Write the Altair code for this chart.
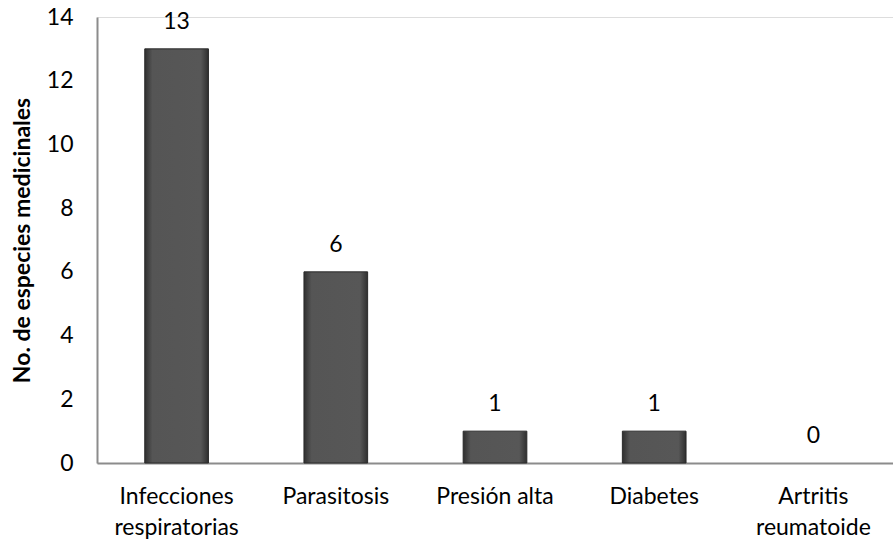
import altair as alt
import pandas as pd

# Medicinal species count per ailment
categories = ["Infecciones\nrespiratorias", "Parasitosis", "Presión alta", "Diabetes", "Artritis\nreumatoide"]
values = [13, 6, 1, 1, 0]

df = pd.DataFrame({"cat": categories, "n": values})

FONT = "Lato"
SIZE = 23

bar_fill = alt.Gradient(
    gradient="linear",
    x1=0, x2=1, y1=0, y2=0,
    stops=[
        alt.GradientStop(color="#2f2f2f", offset=0),
        alt.GradientStop(color="#555555", offset=0.12),
        alt.GradientStop(color="#575757", offset=0.88),
        alt.GradientStop(color="#2f2f2f", offset=1),
    ],
)

x = alt.X(
    "cat:N",
    sort=categories,
    scale=alt.Scale(paddingInner=0.6, paddingOuter=0.3),
    axis=alt.Axis(
        title=None,
        labelAngle=0,
        labelExpr="split(datum.label, '\\n')",
        labelFontSize=SIZE,
        labelFont=FONT,
        labelColor="#000000",
        labelPadding=22,
        labelLineHeight=31,
        ticks=False,
        domainColor="#8c8c8c",
        domainWidth=2,
    ),
)

y = alt.Y(
    "n:Q",
    scale=alt.Scale(domain=[0, 14], nice=False),
    axis=alt.Axis(
        title="No. de especies medicinales",
        titleFont=FONT,
        titleFontSize=23,
        titleFontWeight="bold",
        titleColor="#000000",
        titlePadding=12,
        values=[0, 2, 4, 6, 8, 10, 12, 14],
        labelFontSize=SIZE,
        labelFont=FONT,
        labelColor="#000000",
        labelPadding=24,
        ticks=False,
        grid=False,
        domainColor="#8c8c8c",
        domainWidth=2,
    ),
)

bars = (
    alt.Chart(df)
    .transform_filter("datum.n > 0")
    .mark_bar(fill=bar_fill, stroke="#2a2a2a", strokeWidth=1)
    .encode(x=x, y=y)
)

labels = alt.Chart(df).mark_text(
    baseline="bottom", dy=-15, fontSize=SIZE, font=FONT, color="#000000"
).encode(x=alt.X("cat:N", sort=categories), y=alt.Y("n:Q"), text="n:Q")

chart = (
    alt.layer(bars, labels)
    .properties(
        width=796,
        height=446,
        autosize=alt.AutoSizeParams(type="none"),
        padding={"left": 97, "top": 17, "right": 0, "bottom": 83},
    )
    .configure_view(stroke=None)
    .configure(background="#ffffff")
)

chart.save("out.html", embed_options={"renderer": "svg", "actions": False})
